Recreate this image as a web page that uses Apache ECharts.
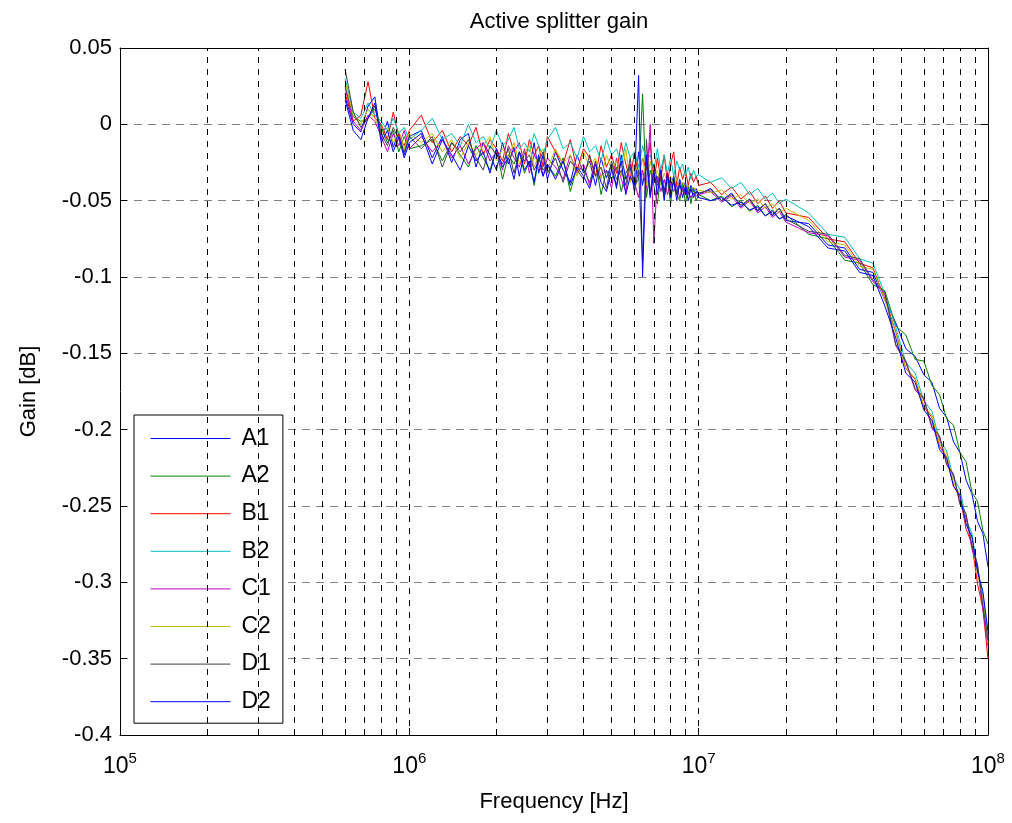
<!DOCTYPE html>
<html>
<head>
<meta charset="utf-8">
<script src="https://cdn.jsdelivr.net/npm/echarts@6/dist/echarts.min.js"></script>
<style>
  html, body { margin: 0; padding: 0; background: #fff; }
  #chart { width: 1012px; height: 823px; }
</style>
</head>
<body>
<div id="chart"></div>
<script>
// frequency points in MHz
var freqMHz = [
  0.60, 0.64, 0.68, 0.72, 0.76, 0.80, 0.84, 0.88, 0.92, 0.96, 1.00,
  1.1, 1.2, 1.3, 1.4, 1.5, 1.6, 1.7, 1.8, 1.9, 2.0, 2.1, 2.2, 2.3, 2.4, 2.5, 2.6, 2.7, 2.8, 2.9, 3.0,
  3.2, 3.4, 3.6, 3.8, 4.0, 4.2, 4.4, 4.6, 4.8, 5.0, 5.2, 5.4, 5.6, 5.8, 6.0, 6.2, 6.4, 6.6, 6.8, 7.0,
  7.2, 7.4, 7.6, 7.8, 8.0, 8.2, 8.4, 8.6, 8.8, 9.0, 9.2, 9.4, 9.6, 9.8, 10.0,
  11, 12, 13, 14, 15, 16, 17, 18, 19, 20,
  24, 28, 32, 36, 40, 44, 48, 52, 56, 60, 64, 68, 72, 76, 80, 84, 88, 92, 96, 100
]

var seriesNames = ['A1', 'A2', 'B1', 'B2', 'C1', 'C2', 'D1', 'D2']
var seriesColors = ['#0000ff', '#008000', '#ff0000', '#00bfbf', '#bf00bf', '#bfbf00', '#404040', '#0000ff']

var gainA1 = [
  0.018, 0.000, -0.005, 0.012, 0.018, -0.010, 0.002, -0.015, -0.005, -0.020, -0.008,
  -0.004, -0.022, -0.008, -0.025, -0.010, -0.006, -0.028, -0.012, -0.020, -0.030, -0.012, -0.026, -0.015, -0.034, -0.018, -0.028, -0.012, -0.032, -0.020, -0.036,
  -0.018, -0.030, -0.038, -0.020, -0.032, -0.024, -0.040, -0.022, -0.035, -0.026, -0.042, -0.020, -0.036, -0.028, -0.044, -0.018, -0.040, -0.024, -0.046, -0.026,
  -0.038, -0.030, -0.044, -0.032, -0.040, -0.034, -0.045, -0.036, -0.042, -0.038, -0.046, -0.040, -0.044, -0.042, -0.046,
  -0.042, -0.050, -0.045, -0.054, -0.049, -0.057, -0.052, -0.060, -0.055, -0.063,
  -0.065, -0.079, -0.081, -0.095, -0.097, -0.115, -0.130, -0.147, -0.152, -0.164, -0.169, -0.186, -0.192, -0.208, -0.215, -0.233, -0.242, -0.260, -0.268, -0.290
]
var gainA2 = [
  0.025, 0.005, 0.002, 0.004, 0.010, -0.002, -0.012, -0.004, -0.018, -0.008, -0.016,
  -0.014, -0.010, -0.024, -0.012, -0.020, -0.028, -0.014, -0.022, -0.030, -0.016, -0.036, -0.020, -0.026, -0.018, -0.032, -0.024, -0.040, -0.022, -0.030, -0.026,
  -0.034, -0.022, -0.044, -0.028, -0.030, -0.038, -0.024, -0.046, -0.030, -0.036, -0.028, -0.044, -0.032, -0.026, -0.040, -0.036, 0.020, -0.048, -0.030, -0.040,
  -0.052, -0.034, -0.048, -0.036, -0.052, -0.034, -0.046, -0.050, -0.038, -0.052, -0.040, -0.052, -0.042, -0.050, -0.046,
  -0.050, -0.047, -0.054, -0.050, -0.057, -0.053, -0.060, -0.056, -0.062, -0.059,
  -0.072, -0.075, -0.089, -0.091, -0.105, -0.109, -0.132, -0.138, -0.154, -0.155, -0.171, -0.177, -0.193, -0.197, -0.215, -0.221, -0.241, -0.247, -0.266, -0.275
]
var gainB1 = [
  0.020, 0.002, 0.006, 0.028, 0.004, 0.000, -0.010, 0.008, -0.008, -0.014, -0.004,
  0.006, -0.012, -0.004, -0.018, -0.008, -0.014, -0.002, -0.020, -0.010, -0.016, -0.024, -0.006, -0.018, -0.012, -0.026, -0.010, -0.020, -0.014, -0.028, -0.008,
  -0.018, -0.026, -0.010, -0.030, -0.016, -0.022, -0.034, -0.014, -0.028, -0.020, -0.032, -0.012, -0.026, -0.036, -0.018, -0.034, -0.022, -0.030, -0.012, -0.038,
  -0.022, -0.036, -0.020, -0.038, -0.026, -0.018, -0.040, -0.028, -0.036, -0.030, -0.040, -0.032, -0.038, -0.034, -0.040,
  -0.038, -0.046, -0.041, -0.049, -0.044, -0.052, -0.047, -0.055, -0.050, -0.058,
  -0.061, -0.075, -0.077, -0.091, -0.094, -0.114, -0.136, -0.160, -0.167, -0.185, -0.192, -0.211, -0.218, -0.237, -0.244, -0.265, -0.275, -0.301, -0.317, -0.350
]
var gainB2 = [
  0.030, 0.008, 0.004, 0.014, 0.006, 0.002, -0.004, 0.004, -0.006, -0.002, -0.010,
  -0.004, 0.004, -0.010, -0.006, -0.014, 0.000, -0.012, -0.008, -0.016, -0.004, -0.014, -0.010, -0.002, -0.016, -0.012, -0.018, -0.006, -0.014, -0.020, -0.010,
  -0.002, -0.016, -0.012, -0.022, -0.008, -0.018, -0.014, -0.024, -0.010, -0.020, -0.016, -0.026, -0.012, -0.022, -0.018, -0.028, -0.014, -0.024, -0.020, -0.030,
  -0.016, -0.030, -0.020, -0.032, -0.022, -0.034, -0.024, -0.030, -0.026, -0.034, -0.028, -0.036, -0.030, -0.034, -0.033,
  -0.038, -0.035, -0.042, -0.038, -0.046, -0.042, -0.049, -0.045, -0.052, -0.049,
  -0.058, -0.072, -0.074, -0.088, -0.091, -0.111, -0.133, -0.156, -0.163, -0.181, -0.188, -0.207, -0.214, -0.232, -0.239, -0.259, -0.268, -0.292, -0.308, -0.336
]
var gainC1 = [
  0.024, 0.002, -0.004, 0.006, 0.002, -0.008, -0.018, -0.006, -0.014, -0.004, -0.016,
  -0.008, -0.018, -0.010, -0.022, -0.014, -0.026, -0.016, -0.012, -0.024, -0.018, -0.030, -0.014, -0.022, -0.028, -0.016, -0.032, -0.020, -0.026, -0.034, -0.022,
  -0.028, -0.036, -0.020, -0.032, -0.026, -0.040, -0.024, -0.034, -0.030, -0.042, -0.022, -0.036, -0.044, -0.026, -0.038, -0.048, -0.030, -0.042, 0.000, -0.078,
  -0.034, -0.044, -0.036, -0.046, -0.038, -0.044, -0.040, -0.048, -0.042, -0.046, -0.044, -0.048, -0.045, -0.047, -0.046,
  -0.044, -0.051, -0.047, -0.055, -0.050, -0.058, -0.054, -0.061, -0.057, -0.064,
  -0.071, -0.073, -0.087, -0.089, -0.103, -0.111, -0.145, -0.156, -0.174, -0.180, -0.199, -0.205, -0.223, -0.230, -0.249, -0.257, -0.278, -0.290, -0.318, -0.342
]
var gainC2 = [
  0.028, 0.006, 0.000, 0.010, 0.004, -0.006, -0.002, -0.012, -0.004, -0.016, -0.006,
  -0.012, -0.006, -0.018, -0.010, -0.022, -0.012, -0.020, -0.014, -0.008, -0.024, -0.016, -0.022, -0.012, -0.026, -0.018, -0.014, -0.028, -0.020, -0.016, -0.030,
  -0.016, -0.026, -0.020, -0.034, -0.018, -0.028, -0.022, -0.036, -0.020, -0.030, -0.024, -0.034, -0.016, -0.038, -0.026, -0.032, -0.022, -0.040, -0.024, -0.036,
  -0.030, -0.040, -0.032, -0.038, -0.034, -0.040, -0.036, -0.042, -0.038, -0.041, -0.040, -0.043, -0.041, -0.044, -0.043,
  -0.045, -0.043, -0.049, -0.046, -0.052, -0.049, -0.055, -0.052, -0.058, -0.055,
  -0.063, -0.077, -0.079, -0.093, -0.095, -0.115, -0.137, -0.160, -0.166, -0.184, -0.191, -0.209, -0.216, -0.235, -0.242, -0.262, -0.271, -0.295, -0.310, -0.340
]
var gainD1 = [
  0.036, 0.008, -0.002, 0.004, 0.012, -0.006, -0.014, -0.002, -0.010, -0.018, -0.008,
  -0.016, -0.008, -0.028, -0.012, -0.018, -0.010, -0.022, -0.030, -0.014, -0.020, -0.026, -0.016, -0.032, -0.018, -0.024, -0.020, -0.030, -0.024, -0.018, -0.032,
  -0.022, -0.038, -0.024, -0.030, -0.036, -0.020, -0.034, -0.028, -0.042, -0.024, -0.036, -0.030, -0.040, -0.022, -0.044, -0.030, -0.090, -0.010, -0.046, -0.032,
  -0.040, -0.036, -0.046, -0.034, -0.042, -0.038, -0.046, -0.040, -0.044, -0.042, -0.045, -0.043, -0.046, -0.044, -0.045,
  -0.043, -0.050, -0.046, -0.053, -0.049, -0.056, -0.052, -0.059, -0.055, -0.062,
  -0.070, -0.072, -0.086, -0.088, -0.102, -0.110, -0.144, -0.155, -0.173, -0.179, -0.198, -0.204, -0.223, -0.229, -0.248, -0.255, -0.276, -0.288, -0.315, -0.338
]
var gainD2 = [
  0.016, -0.004, -0.010, 0.004, 0.014, -0.012, -0.004, -0.018, -0.008, -0.022, -0.012,
  -0.006, -0.026, -0.010, -0.020, -0.030, -0.014, -0.024, -0.018, -0.032, -0.016, -0.028, -0.022, -0.036, -0.018, -0.030, -0.024, -0.038, -0.020, -0.034, -0.026,
  -0.036, -0.024, -0.040, -0.028, -0.034, -0.042, -0.026, -0.038, -0.044, -0.030, -0.040, -0.024, -0.046, -0.034, -0.040, 0.032, -0.100, -0.020, -0.048, -0.030,
  -0.046, -0.030, -0.050, -0.032, -0.048, -0.036, -0.050, -0.038, -0.048, -0.040, -0.050, -0.042, -0.048, -0.044, -0.048,
  -0.050, -0.048, -0.053, -0.051, -0.056, -0.054, -0.060, -0.057, -0.062, -0.060,
  -0.067, -0.081, -0.083, -0.097, -0.099, -0.119, -0.140, -0.163, -0.169, -0.187, -0.194, -0.213, -0.219, -0.237, -0.243, -0.262, -0.270, -0.293, -0.306, -0.332
]
var gains = [gainA1, gainA2, gainB1, gainB2, gainC1, gainC2, gainD1, gainD2]

var yTicks = [-0.4, 0.05, 0.05] // min, max, step
var xDecades = [5, 6, 7, 8]

// minor log grid (2..9 in each decade)
var minorGrid = []
for (var d = 0; d < xDecades.length - 1; d++) {
  for (var k = 2; k <= 9; k++) {
    minorGrid.push({ xAxis: k * Math.pow(10, xDecades[d]) })
  }
}

var font = 'Liberation Sans, Arial, Helvetica, sans-serif'
var chart = echarts.init(document.getElementById('chart'), null, { renderer: 'canvas' })

var seriesArr = [{
  name: 'grid',
  type: 'line',
  data: [],
  silent: true,
  markLine: {
    silent: true,
    symbol: ['none', 'none'],
    label: { show: false },
    lineStyle: { color: '#000', type: [6, 6], width: 1 },
    data: minorGrid
  }
}]
seriesNames.forEach(function(n, i) {
  seriesArr.push({
    name: n,
    type: 'line',
    showSymbol: false,
    symbol: 'none',
    color: seriesColors[i],
    lineStyle: { width: 1, color: seriesColors[i] },
    data: freqMHz.map(function(f, j) { return [f * 1e6, gains[i][j]] })
  })
})

chart.setOption({
  animation: false,
  backgroundColor: '#fff',
  title: {
    text: 'Active splitter gain',
    left: 554,
    top: 6,
    textAlign: 'center',
    textStyle: { fontFamily: font, fontSize: 22, fontWeight: 'normal', color: '#000' }
  },
  grid: { left: 120, right: 24, top: 48, bottom: 88 },
  legend: {
    data: seriesNames,
    orient: 'vertical',
    left: 134,
    top: 415,
    padding: [12, 12, 10, 16],
    itemGap: 14.6,
    itemWidth: 80,
    itemHeight: 14,
    itemStyle: { opacity: 0 },
    lineStyle: { width: 1 },
    borderColor: '#000',
    borderWidth: 1,
    backgroundColor: '#fff',
    textStyle: { fontFamily: font, fontSize: 23, color: '#000', padding: [0, 0, 0, 6], lineHeight: 22 }
  },
  xAxis: [{
    type: 'log',
    logBase: 10,
    min: 1e5,
    max: 1e8,
    name: 'Frequency [Hz]',
    nameLocation: 'middle',
    nameGap: 56,
    nameTextStyle: { fontFamily: font, fontSize: 22, color: '#000' },
    axisLine: { show: true, onZero: false, lineStyle: { color: '#000', width: 1 } },
    axisTick: { show: true, inside: true, length: 7, lineStyle: { color: '#000' } },
    splitLine: { show: true, lineStyle: { color: '#000', type: [6, 6], width: 1 } },
    axisLabel: {
      margin: 16,
      formatter: function(v) {
        return '{b|10}{s|' + Math.round(Math.log10(v)) + '}'
      },
      rich: {
        b: { fontFamily: font, fontSize: 23, color: '#000' },
        s: { fontFamily: font, fontSize: 15, color: '#000', padding: [0, 0, 16, 0] }
      }
    }
  }, {
    type: 'log',
    logBase: 10,
    min: 1e5,
    max: 1e8,
    position: 'top',
    axisLine: { show: true, onZero: false, lineStyle: { color: '#000', width: 1 } },
    axisTick: { show: true, inside: true, length: 7, lineStyle: { color: '#000' } },
    axisLabel: { show: false },
    splitLine: { show: false }
  }],
  yAxis: [{
    type: 'value',
    min: yTicks[0],
    max: yTicks[1],
    interval: yTicks[2],
    name: 'Gain [dB]',
    nameLocation: 'middle',
    nameGap: 80,
    nameTextStyle: { fontFamily: font, fontSize: 22, color: '#000' },
    axisLine: { show: true, onZero: false, lineStyle: { color: '#000', width: 1 } },
    axisTick: { show: true, inside: true, length: 7, lineStyle: { color: '#000' } },
    splitLine: { show: true, lineStyle: { color: '#808080', type: [8, 6], width: 1 } },
    axisLabel: {
      margin: 8,
      fontFamily: font,
      fontSize: 22,
      color: '#000',
      formatter: function(v) { return String(+v.toFixed(2)) }
    }
  }, {
    type: 'value',
    min: yTicks[0],
    max: yTicks[1],
    interval: yTicks[2],
    position: 'right',
    axisLine: { show: true, onZero: false, lineStyle: { color: '#000', width: 1 } },
    axisTick: { show: true, inside: true, length: 7, lineStyle: { color: '#000' } },
    axisLabel: { show: false },
    splitLine: { show: false }
  }],
  series: seriesArr
})
</script>
</body>
</html>
